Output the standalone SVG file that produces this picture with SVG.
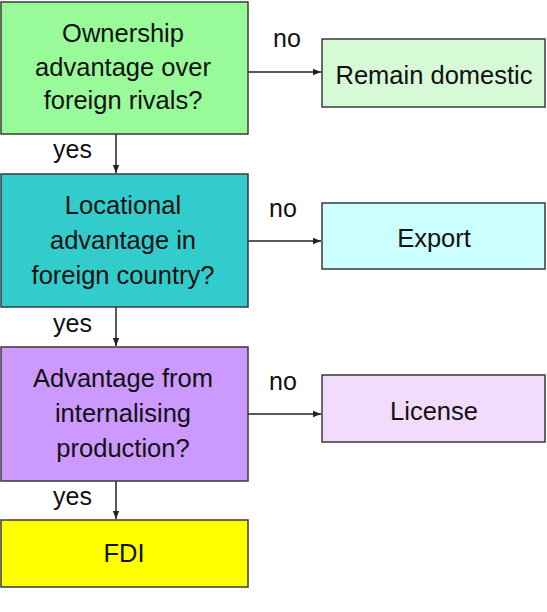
<svg xmlns="http://www.w3.org/2000/svg" width="547" height="612" viewBox="0 0 547 612">
<style>
.box{stroke:#3a3a3a;stroke-width:1.5}
.t{font-family:"Liberation Sans",Arial,sans-serif;font-size:25.5px;fill:#111;text-anchor:middle}
.l{font-family:"Liberation Sans",Arial,sans-serif;font-size:25px;fill:#111}
.c{stroke:#222;stroke-width:1.5;fill:none;marker-end:url(#ah)}
</style>
<defs>
<marker id="ah" viewBox="0 0 10 10" refX="10" refY="5" markerWidth="8" markerHeight="8" markerUnits="userSpaceOnUse" orient="auto">
<path d="M0,1 L10,5 L0,9 Z" fill="#222"/>
</marker>
</defs>
<rect width="547" height="612" fill="#fff"/>
<g id="connectors">
<line class="c" x1="248" y1="72" x2="321" y2="72"/>
<line class="c" x1="248" y1="241" x2="321" y2="241"/>
<line class="c" x1="248" y1="414" x2="321" y2="414"/>
<line class="c" x1="116" y1="134" x2="116" y2="173"/>
<line class="c" x1="116" y1="307" x2="116" y2="346"/>
<line class="c" x1="116" y1="481" x2="116" y2="519"/>
<text class="l" x="273" y="47">no</text>
<text class="l" x="269" y="217">no</text>
<text class="l" x="269" y="390">no</text>
<text class="l" x="53" y="158">yes</text>
<text class="l" x="53" y="332">yes</text>
<text class="l" x="53" y="505">yes</text>
</g>
<g id="n1">
<rect class="box" x="1" y="2" width="247" height="132" fill="#99FA99"/>
<text class="t" x="123" y="42">Ownership</text>
<text class="t" x="123" y="76">advantage over</text>
<text class="t" x="123" y="109">foreign rivals?</text>
</g>
<g id="n2">
<rect class="box" x="322" y="39" width="223" height="68" fill="#D6FAD6"/>
<text class="t" x="434" y="84">Remain domestic</text>
</g>
<g id="n3">
<rect class="box" x="1" y="174" width="247" height="133" fill="#33CCCC"/>
<text class="t" x="123" y="214">Locational</text>
<text class="t" x="123" y="249">advantage in</text>
<text class="t" x="123" y="284">foreign country?</text>
</g>
<g id="n4">
<rect class="box" x="322" y="203" width="223" height="66" fill="#CCFFFF"/>
<text class="t" x="434" y="247">Export</text>
</g>
<g id="n5">
<rect class="box" x="1" y="347" width="247" height="134" fill="#CC99FF"/>
<text class="t" x="123" y="387">Advantage from</text>
<text class="t" x="123" y="422">internalising</text>
<text class="t" x="123" y="457">production?</text>
</g>
<g id="n6">
<rect class="box" x="322" y="375" width="223" height="67" fill="#F2DCFB"/>
<text class="t" x="434" y="420">License</text>
</g>
<g id="n7">
<rect class="box" x="1" y="520" width="247" height="67" fill="#FFFF00"/>
<text class="t" x="124" y="562">FDI</text>
</g>
</svg>
